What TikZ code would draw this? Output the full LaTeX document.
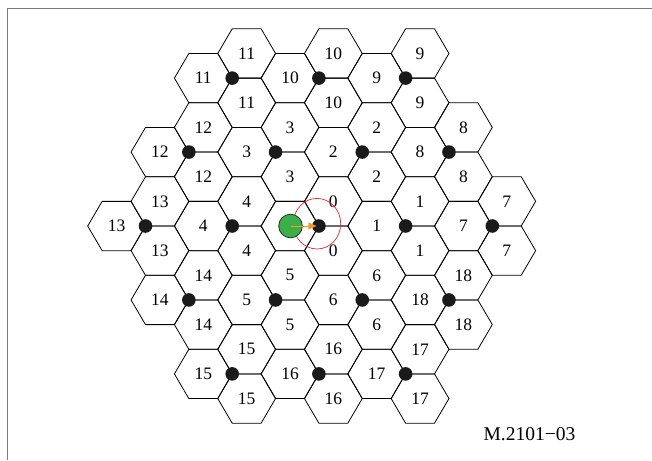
\documentclass[tikz,border=0pt]{standalone}
\usepackage{fontspec}
\setmainfont{Liberation Serif}
\usetikzlibrary{arrows.meta,shapes.geometric}
\definecolor{frameg}{HTML}{7A7A7A}
\definecolor{uegreen}{HTML}{3DAE49}
\definecolor{ueedge}{HTML}{1E331E}
\definecolor{arroworange}{HTML}{F39C1F}
\definecolor{ringred}{HTML}{E8262E}
\definecolor{dotblack}{HTML}{1A1A1A}
\begin{document}
\begin{tikzpicture}[x=1pt,y=-1pt,
  framel/.style={draw=frameg,line width=1.3pt},
  hexline/.style={draw=black,line width=0.8pt,line join=miter},
  cellnum/.style={inner sep=0pt,font=\fontsize{17.5}{20}\selectfont},
  sitedot/.style={circle,fill=dotblack,inner sep=0pt,minimum size=13.6pt},
  uenode/.style={circle,fill=uegreen,draw=ueedge,line width=0.8pt,inner sep=0pt,minimum size=23.6pt},
  ring/.style={ellipse,draw=ringred,line width=0.7pt,inner sep=0pt,minimum width=47.4pt,minimum height=50.6pt},
  uearrow/.style={draw=arroworange,line width=1pt,-{Triangle[length=8pt,width=7pt]},shorten >=2.5pt},
  figid/.style={inner sep=0pt,font=\fontsize{19.5}{22}\selectfont}]
\useasboundingbox (0,0) rectangle (652,460);
\draw[framel] (7.3,460) -- (7.3,8.7) -- (652,8.7);
% hexagonal cells, three sectors per site
\foreach \n/\a/\b in {0/0/0,1/1/0,2/0/1,3/-1/1,4/-1/0,5/0/-1,6/1/-1,7/2/0,8/1/1,9/0/2,10/-1/2,11/-2/2,12/-2/1,13/-2/0,14/-1/-1,15/0/-2,16/1/-2,17/2/-2,18/2/-1}{
  \pgfmathsetmacro\vx{318.9+86.7*\a+43.35*\b}
  \pgfmathsetmacro\vy{226-73.95*\b}
  \foreach \dx/\dy in {-28.9/0,14.45/-24.65,14.45/24.65}{
    \draw[hexline] ({\vx+(\dx)-28.9},{\vy+(\dy)}) -- ++(14.45,-24.65) -- ++(28.9,0) -- ++(14.45,24.65) -- ++(-14.45,24.65) -- ++(-28.9,0) -- cycle;
  }
  \ifnum\n=0\relax\else
    \node[cellnum] (c\n l) at ({\vx-28.9},{\vy}) {\n};
  \fi
  \node[cellnum] (c\n u) at ({\vx+14.45},{\vy-24.65}) {\n};
  \node[cellnum] (c\n d) at ({\vx+14.45},{\vy+24.65}) {\n};
}
% base station sites
\foreach \n/\a/\b in {0/0/0,1/1/0,2/0/1,3/-1/1,4/-1/0,5/0/-1,6/1/-1,7/2/0,8/1/1,9/0/2,10/-1/2,11/-2/2,12/-2/1,13/-2/0,14/-1/-1,15/0/-2,16/1/-2,17/2/-2,18/2/-1}{
  \pgfmathsetmacro\vx{318.9+86.7*\a+43.35*\b}
  \pgfmathsetmacro\vy{226-73.95*\b}
  \node[sitedot] (s\n) at ({\vx},{\vy}) {};
}
\node[ring] (cov) at (317,223.7) {};
\node[uenode] (ue) at (290.5,226) {};
\draw[uearrow] (ue.center) -- (s0.center);
\node[figid] (figid) at (529.5,434.2) {M.2101−03};
\end{tikzpicture}
\end{document}
